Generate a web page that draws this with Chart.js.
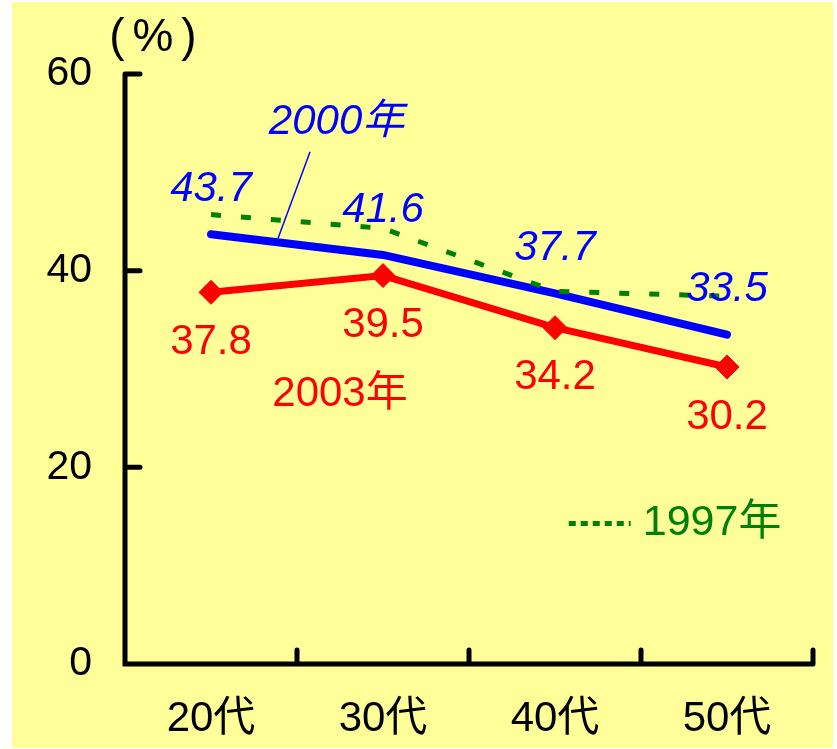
<!DOCTYPE html>
<html>
<head>
<meta charset="utf-8">
<script src="https://cdn.jsdelivr.net/npm/chart.js@4.4.0/dist/chart.umd.min.js"></script>
<style>
  body { margin: 0; background: #ffffff; }
</style>
</head>
<body>
<canvas id="grafico" width="837" height="749"></canvas>
<script>
// dados
const categorias = ['20代', '30代', '40代', '50代'];
const valores1997 = [45.7, 44.3, 37.9, 37.4];
const valores2000 = [43.7, 41.6, 37.7, 33.5];
const valores2003 = [37.8, 39.5, 34.2, 30.2];
const ticksY = [0, 20, 40, 60];

const fonte = "'Liberation Sans', Arial, 'Noto Sans CJK JP', sans-serif";
const azul = '#0000ff';
const vermelho = '#ff0000';
const verde = '#008000';

// fundo amarelo
const pluginFundo = {
    id: 'fundo',
    beforeDraw(chart) {
        const ctx = chart.ctx;
        ctx.save();
        ctx.fillStyle = '#ffffff';
        ctx.fillRect(0, 0, chart.width, chart.height);
        ctx.fillStyle = '#ffff99';
        ctx.fillRect(12, 2, 821, 746);
        ctx.restore();
    }
};

// eixos com marcas para dentro
const pluginEixos = {
    id: 'eixos',
    beforeDatasetsDraw(chart) {
        const ctx = chart.ctx;
        const x = chart.scales.x;
        const y = chart.scales.y;
        const a = chart.chartArea;
        ctx.save();
        ctx.strokeStyle = '#000';
        ctx.lineWidth = 5;
        ctx.lineCap = 'round';
        ctx.beginPath();
        ctx.moveTo(a.left, y.getPixelForValue(60));
        ctx.lineTo(a.left, y.getPixelForValue(0));
        ctx.lineTo(a.right, y.getPixelForValue(0));
        for (const v of ticksY) {
            ctx.moveTo(a.left, y.getPixelForValue(v));
            ctx.lineTo(a.left + 15, y.getPixelForValue(v));
        }
        for (let i = 0; i < categorias.length; i++) {
            const px = x.getPixelForValue(i + 0.5);
            ctx.moveTo(px, a.bottom);
            ctx.lineTo(px, a.bottom - 14);
        }
        ctx.stroke();
        ctx.restore();
    }
};

// rótulos dos valores e textos
const pluginTextos = {
    id: 'textos',
    afterDatasetsDraw(chart) {
        const ctx = chart.ctx;
        const x = chart.scales.x;
        const y = chart.scales.y;
        ctx.save();
        ctx.textAlign = 'center';
        ctx.textBaseline = 'middle';

        ctx.font = 'italic 42px ' + fonte;
        ctx.fillStyle = azul;
        valores2000.forEach((v, i) => {
            ctx.fillText(v.toFixed(1), x.getPixelForValue(i), y.getPixelForValue(v) - 45);
        });
        ctx.fillText('2000年', x.getPixelForValue(0.73), y.getPixelForValue(55.1));
        ctx.strokeStyle = azul;
        ctx.lineWidth = 1.5;
        ctx.beginPath();
        ctx.moveTo(x.getPixelForValue(0.576), y.getPixelForValue(52.1));
        ctx.lineTo(x.getPixelForValue(0.39), y.getPixelForValue(43.3));
        ctx.stroke();

        ctx.font = '42px ' + fonte;
        ctx.fillStyle = vermelho;
        valores2003.forEach((v, i) => {
            ctx.fillText(v.toFixed(1), x.getPixelForValue(i), y.getPixelForValue(v) + 50);
        });
        ctx.fillText('2003年', x.getPixelForValue(0.75), y.getPixelForValue(27.4));

        // legenda 1997
        ctx.strokeStyle = verde;
        ctx.lineWidth = 5;
        ctx.setLineDash([7, 5]);
        ctx.beginPath();
        ctx.moveTo(x.getPixelForValue(2.08), y.getPixelForValue(14.3));
        ctx.lineTo(x.getPixelForValue(2.44), y.getPixelForValue(14.3));
        ctx.stroke();
        ctx.setLineDash([]);
        ctx.fillStyle = verde;
        ctx.textAlign = 'left';
        ctx.font = '43px ' + fonte;
        ctx.fillText('1997年', x.getPixelForValue(2.51), y.getPixelForValue(14.3));

        // unidade
        ctx.fillStyle = '#000';
        ctx.textAlign = 'center';
        ctx.font = '46px ' + fonte;
        ctx.fillText('%', 153, 38);
        ctx.font = '46px ' + fonte;
        ctx.fillText('(', 117, 38);
        ctx.fillText(')', 189, 38);
        ctx.restore();
    }
};

const dados = {
    labels: categorias,
    datasets: [{
        label: '1997年',
        data: valores1997,
        borderColor: verde,
        borderWidth: 5,
        borderDash: [10, 20],
        pointRadius: 0,
        fill: false,
        tension: 0,
        order: 0
    }, {
        label: '2000年',
        data: valores2000,
        borderColor: azul,
        borderWidth: 8,
        borderCapStyle: 'round',
        pointRadius: 0,
        fill: false,
        tension: 0,
        order: 1
    }, {
        label: '2003年',
        data: valores2003,
        borderColor: vermelho,
        backgroundColor: vermelho,
        borderWidth: 7,
        pointStyle: 'rectRot',
        pointRadius: 12,
        pointBorderWidth: 1,
        fill: false,
        tension: 0,
        order: 2
    }]
};

const config = {
    type: 'line',
    data: dados,
    options: {
        responsive: false,
        animation: false,
        clip: false,
        layout: { padding: { top: 74, right: 24, left: 0, bottom: 0 } },
        plugins: {
            legend: { display: false },
            tooltip: { enabled: false }
        },
        scales: {
            x: {
                offset: true,
                grid: { display: false, drawTicks: false },
                border: { display: false },
                ticks: { color: '#000', font: { family: fonte, size: 42 }, padding: 30, maxRotation: 0 },
                afterFit(s) { s.height = 85; }
            },
            y: {
                min: 0,
                max: 60,
                grid: { display: false, drawTicks: false },
                border: { display: false },
                ticks: { color: '#000', font: { family: fonte, size: 41 }, padding: 33 },
                afterBuildTicks(s) { s.ticks = ticksY.map(v => ({ value: v })); },
                afterFit(s) { s.width = 125; }
            }
        }
    },
    plugins: [pluginFundo, pluginEixos, pluginTextos]
};

const grafico = new Chart(document.getElementById('grafico'), config);
</script>
</body>
</html>
